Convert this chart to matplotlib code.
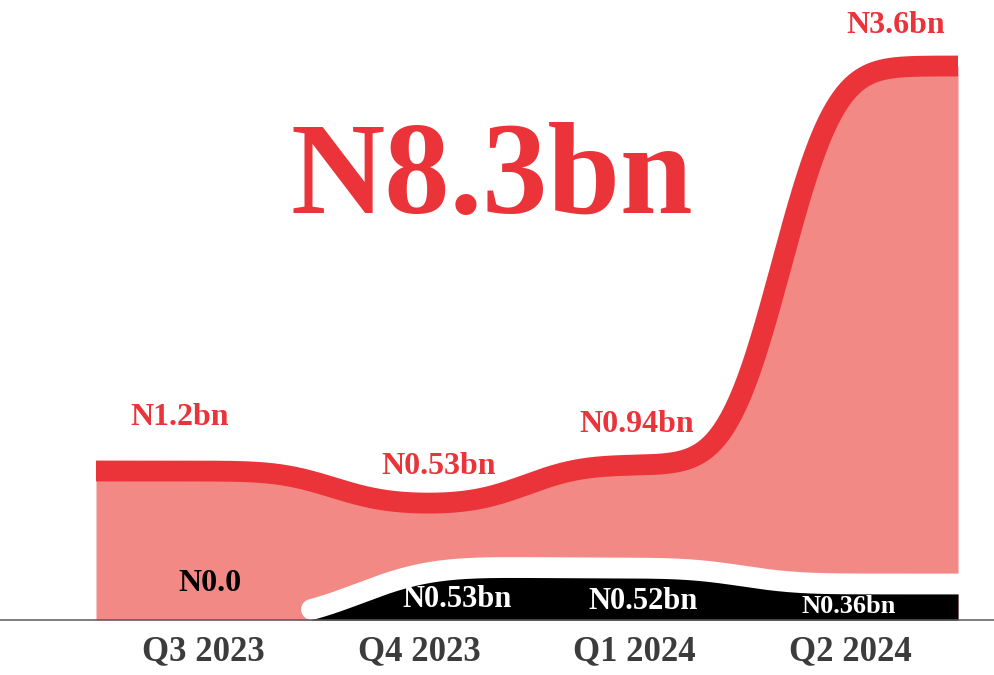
import math
import numpy as np
import matplotlib
matplotlib.use("Agg")
import matplotlib.pyplot as plt

# ---------------- data ----------------
quarters = ["Q3 2023", "Q4 2023", "Q1 2024", "Q2 2024"]
red_values_bn = [1.2, 0.53, 0.94, 3.6]          # labelled red series (N bn)
black_values_bn = [0.0, 0.53, 0.52, 0.36]       # labelled black series (N bn)
red_labels = ["N1.2bn", "N0.53bn", "N0.94bn", "N3.6bn"]
black_labels = ["N0.0", "N0.53bn", "N0.52bn", "N0.36bn"]
total_label = "N8.3bn"
# illustrative drawn height of the red band, read off the graphic (axis units)
red_drawn = [1.49, 1.16, 1.55, 5.54]

# ---------------- style ----------------
RED = "#EB333A"
RED_FILL = "#F38985"
GREY = "#3C3C3C"
FONT = "Liberation Serif"

W, H = 995, 675
fig = plt.figure(figsize=(W / 100, H / 100), dpi=100)
base_px = 620
ax = fig.add_axes([0, (H - base_px) / H, 1, base_px / H])
seg_px = 215.5
left_px = 96
x0 = -0.5 - left_px / seg_px
x1 = 3.5 + (W - (left_px + 4 * seg_px)) / seg_px
ax.set_xlim(x0, x1)
ax.set_ylim(0, base_px / 100)

erf = np.vectorize(math.erf)


def smooth_steps(x, levels, edges, sigmas):
    y = np.full_like(x, float(levels[0]))
    for k, e in enumerate(edges):
        s = sigmas[k]
        y = y + (levels[k + 1] - levels[k]) * 0.5 * (1 + erf((x - e) / (s * math.sqrt(2))))
    return y


n = len(quarters)
xr = np.linspace(-0.5, n - 0.5, 800)
yr = smooth_steps(xr, red_drawn, [0.6, 1.5, 2.68], [0.2, 0.2, 0.2])
ax.fill_between(xr, 0, yr, color=RED_FILL, lw=0, zorder=1)
ax.plot(xr, yr, color=RED, lw=15, solid_capstyle="butt", solid_joinstyle="round", zorder=2)

xb = np.linspace(0.5, n - 0.5, 600)
yb = smooth_steps(xb, black_values_bn, [0.72, 1.5, 2.5], [0.26, 0.2, 0.2])
ax.fill_between(xb, 0, yb, color="black", lw=0, zorder=3)
ax.plot(xb, yb, color="white", lw=15, solid_capstyle="round", zorder=4)

# red labels
red_dx = [-24, 19, 2, 45]
red_dy = [46, 30, 33, 33]
for i, lab in enumerate(red_labels):
    ax.annotate(lab, xy=(i, red_drawn[i]), xytext=(red_dx[i], red_dy[i]),
                textcoords="offset pixels", ha="center", va="baseline",
                fontsize=23, fontweight="bold", color=RED, family=FONT,
                zorder=6, annotation_clip=False)

# black-series labels
blk_dx = [6, 38, 8, -2]
blk_dy = [29, 13, 11, 7]
blk_size = [23, 22, 22, 19]
for i, lab in enumerate(black_labels):
    col = "black" if black_values_bn[i] == 0 else "white"
    ax.annotate(lab, xy=(i, 0), xytext=(blk_dx[i], blk_dy[i]),
                textcoords="offset pixels", ha="center", va="baseline",
                fontsize=blk_size[i], fontweight="bold", color=col, family=FONT,
                zorder=6, annotation_clip=False)

# big total
fig.text(492 / W, 1 - 213 / H, total_label, ha="center", va="baseline",
         fontsize=94, fontweight="bold", color=RED, family=FONT)

# axes styling
for s in ["top", "left", "right"]:
    ax.spines[s].set_visible(False)
ax.spines["bottom"].set_color("#5A5A5A")
ax.spines["bottom"].set_linewidth(1.1)
ax.spines["bottom"].set_zorder(7)
ax.set_yticks([])
ax.set_xticks(range(n))
ax.set_xticklabels(quarters, fontsize=25, fontweight="bold", color=GREY, family=FONT)
ax.tick_params(axis="x", length=0, pad=11)
ax.patch.set_alpha(0)

fig.savefig("out.png", dpi=100)
